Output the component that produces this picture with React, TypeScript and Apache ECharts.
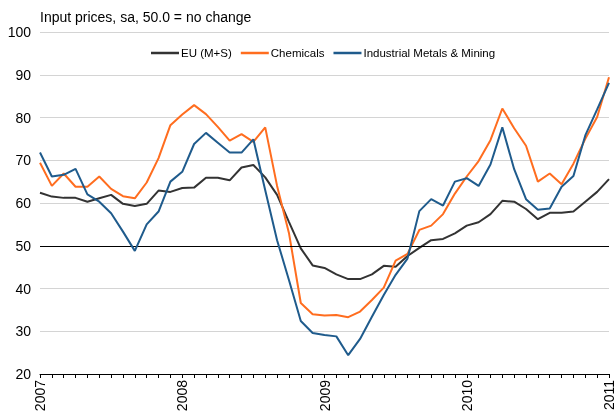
import React, { useEffect, useRef } from "react";
import * as echarts from "echarts";

const YEARS = [2007, 2008, 2009, 2010];
const MONTHS: string[] = [];
YEARS.forEach((y) => {
  for (let m = 1; m <= 12; m++) MONTHS.push(`${y}-${m < 10 ? "0" + m : m}`);
});
MONTHS.push("2011-01");

const EU = [
  62.4, 61.5, 61.2, 61.2, 60.3, 61.1, 61.9, 59.8, 59.3, 59.8, 62.9, 62.6,
  63.5, 63.6, 65.9, 65.9, 65.3, 68.3, 68.9, 66.0, 61.9, 55.6, 49.4, 45.4,
  44.8, 43.3, 42.2, 42.2, 43.3, 45.3, 45.1, 47.6, 49.5, 51.3, 51.6, 52.9,
  54.7, 55.5, 57.4, 60.5, 60.3, 58.6, 56.2, 57.7, 57.7, 58.0, 60.3, 62.6,
  65.6,
];
const CHEMICALS = [
  69.4, 64.0, 66.9, 63.8, 63.8, 66.2, 63.3, 61.6, 61.1, 64.8, 70.5, 78.2,
  80.7, 82.9, 80.8, 77.8, 74.6, 76.1, 74.3, 77.7, 64.0, 53.0, 36.6, 34.0,
  33.7, 33.8, 33.3, 34.6, 37.3, 40.2, 46.5, 48.1, 53.7, 54.7, 57.4, 62.2,
  66.2, 69.8, 74.7, 82.1, 77.5, 73.4, 65.0, 66.9, 64.4, 69.2, 75.0, 80.1,
  89.4,
];
const METALS = [
  71.8, 66.2, 66.6, 68.0, 62.0, 60.3, 57.6, 53.3, 48.8, 55.0, 58.0, 65.0,
  67.3, 73.8, 76.4, 74.1, 71.8, 71.8, 74.9, 63.0, 51.3, 42.0, 32.4, 29.6,
  29.1, 28.8, 24.4, 28.2, 33.4, 38.5, 43.2, 47.0, 58.1, 60.9, 59.4, 65.0,
  65.8, 64.0, 69.0, 77.7, 67.9, 60.9, 58.4, 58.7, 63.8, 66.3, 75.8, 81.9,
  88.1,
];
const NO_CHANGE = 50;
const TITLE = "Input prices, sa, 50.0 = no change";
const SERIES_NAMES = ["EU (M+S)", "Chemicals", "Industrial Metals & Mining"];
const COLORS = ["#333333", "#ff6d1f", "#1f5b8c"];

const FONT = "'Liberation Sans', Arial, sans-serif";

export default function App() {
  const ref = useRef<HTMLDivElement>(null);
  useEffect(() => {
    if (!ref.current) return;
    const chart = echarts.init(ref.current, null, { renderer: "svg" });
    const data = [EU, CHEMICALS, METALS];
    chart.setOption({
      animation: false,
      textStyle: { fontFamily: FONT },
      title: {
        text: TITLE,
        left: 35,
        top: 5,
        textStyle: { fontSize: 14, fontWeight: "normal", color: "#000", fontFamily: FONT },
      },
      legend: {
        left: 146,
        top: 42,
        icon: "rect",
        itemWidth: 28,
        itemHeight: 2.5,
        itemGap: 9,
        textStyle: { fontSize: 11.5, color: "#000", fontFamily: FONT, padding: [0, 0, 0, -3] },
        data: SERIES_NAMES,
      },
      grid: { left: 40, right: 3, top: 32, bottom: 42, containLabel: false },
      xAxis: {
        type: "category",
        data: MONTHS,
        boundaryGap: false,
        axisLine: { lineStyle: { color: "#000", width: 1 } },
        axisTick: { show: true, interval: 0, length: 4, lineStyle: { color: "#000" } },
        axisLabel: {
          interval: 11,
          rotate: 90,
          fontSize: 14,
          color: "#000",
          margin: 6,
          fontFamily: FONT,
          formatter: (v: string) => v.slice(0, 4),
        },
        splitLine: { show: false },
      },
      yAxis: {
        type: "value",
        min: 20,
        max: 100,
        interval: 10,
        axisLine: { show: false },
        axisTick: { show: false },
        axisLabel: { fontSize: 14, color: "#000", margin: 9, fontFamily: FONT },
        splitLine: { lineStyle: { color: "#d4d4d4", width: 1 } },
      },
      series: SERIES_NAMES.map((name, i) => ({
        name,
        type: "line",
        data: data[i],
        symbol: "none",
        showSymbol: false,
        z: 3 + i,
        lineStyle: { color: COLORS[i], width: 2 },
        itemStyle: { color: COLORS[i] },
        ...(i === 0
          ? {
              markLine: {
                silent: true,
                symbol: "none",
                label: { show: false },
                lineStyle: { color: "#000", width: 1, type: "solid" },
                data: [{ yAxis: NO_CHANGE }],
              },
            }
          : {}),
      })),
    });
    return () => chart.dispose();
  }, []);
  return (
    <div
      ref={ref}
      style={{ position: "fixed", left: 0, top: 0, width: 616, height: 416 }}
    />
  );
}
